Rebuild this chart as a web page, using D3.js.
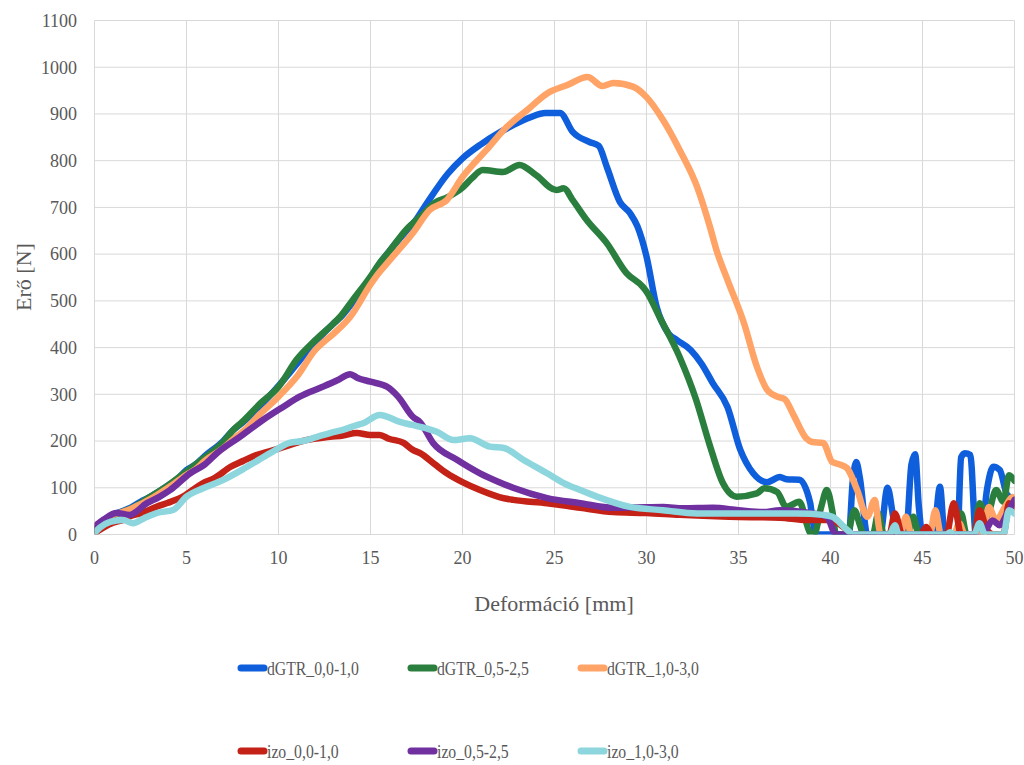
<!DOCTYPE html>
<html>
<head>
<meta charset="utf-8">
<script src="https://d3js.org/d3.v7.min.js"></script>
<style>
  body { margin: 0; background: #fff; }
  svg { font-family: "Liberation Serif", "Times New Roman", serif; }
</style>
</head>
<body>
<svg width="1024" height="765"></svg>
<script>
// series names, legend order
var names = ["dGTR_0,0-1,0", "dGTR_0,5-2,5", "dGTR_1,0-3,0", "izo_0,0-1,0", "izo_0,5-2,5", "izo_1,0-3,0"];
var colors = ["#0f5fdc", "#2a7f3e", "#ffa366", "#c42117", "#7030a0", "#8dd6dd"];

var xTicks = [0, 5, 10, 15, 20, 25, 30, 35, 40, 45, 50];
var yTicks = [0, 100, 200, 300, 400, 500, 600, 700, 800, 900, 1000, 1100];

// [deformation mm, force N]
var dGTR_00 = [[0,10],[0.5,30],[1,42],[1.5,50],[2,58],[2.5,70],[3,80],[3.5,92],[4,105],[4.5,118],[5,138],[5.5,150],[6,168],[7,200],[7.5,222],[8,238],[9,275],[10,318],[11,365],[12,412],[13,452],[13.4,466],[14,495],[15,548],[15.5,580],[16,605],[17,652],[17.5,675],[18,705],[19.2,772],[20,805],[21,835],[22,860],[22.75,876],[23.7,893],[24.5,902],[25.3,902],[26,861],[26.9,840],[27.4,832],[27.85,786],[28.55,712],[29.1,688],[29.5,660],[30,595],[30.55,487],[31.2,430],[31.65,416],[32.4,395],[33,365],[33.6,324],[34.4,273],[35.1,181],[35.8,131],[36.55,112],[37.25,123],[37.6,118],[38.3,117],[38.9,67],[39.0,37],[39.3,0],[41.0,0],[41.2,110],[41.4,155],[41.6,120],[42.0,0],[42.7,0],[43.1,100],[43.4,40],[43.6,0],[44.1,0],[44.4,150],[44.6,172],[44.8,60],[45.0,0],[45.6,0],[45.95,102],[46.2,0],[46.9,0],[47.1,165],[47.3,174],[47.6,170],[47.9,0],[48.2,0],[48.5,95],[48.85,145],[49.2,138],[49.6,85],[50,75]];
var dGTR_05 = [[0,10],[0.5,28],[1,40],[1.5,48],[2,56],[3,80],[4,105],[5,135],[6,165],[7,198],[7.55,224],[8,240],[9,280],[10,316],[11,375],[12,416],[13,452],[13.35,466],[14,500],[15,552],[15.5,581],[16,605],[17,655],[17.3,666],[17.7,680],[18.5,710],[19.2,722],[20.05,744],[20.5,762],[21.1,780],[22.2,776],[23.1,791],[24,769],[25.1,737],[25.5,741],[26,715],[26.75,673],[27.85,623],[28.9,560],[29.8,530],[30,520],[30.7,466],[31.8,380],[32.7,288],[33.4,196],[34.15,110],[34.9,81],[36.0,88],[36.4,99],[37.1,91],[37.6,59],[38.3,70],[38.9,3],[39.1,0],[39.5,60],[39.8,95],[40.1,50],[40.3,0],[40.9,0],[41.3,52],[41.6,20],[41.8,0],[42.3,0],[42.6,45],[42.9,0],[44.2,0],[44.5,38],[44.8,0],[46.8,0],[47.1,45],[47.4,0],[47.8,0],[48.1,67],[48.5,40],[49.0,95],[49.4,70],[49.7,127],[50,115]];
var dGTR_10 = [[0,15],[0.5,30],[1,42],[1.5,48],[2,55],[2.5,65],[3,75],[4,100],[5,128],[5.5,140],[6,158],[7,185],[7.7,209],[8,218],[9,258],[10,295],[11,338],[12,395],[12.4,410],[13,430],[13.9,466],[15,535],[15.3,552],[16,585],[17.3,645],[18.2,694],[19.15,716],[20,765],[21.3,823],[22.4,872],[23.5,908],[24.6,944],[25.7,962],[26.8,979],[27.6,960],[28.2,966],[29.3,958],[30,936],[30.9,887],[31.8,823],[32.75,744],[33.45,658],[33.8,609],[34.4,545],[35.3,452],[36.0,359],[36.55,310],[37.1,295],[37.5,290],[38.0,255],[38.7,205],[39.0,198],[39.6,196],[40.1,155],[40.5,150],[40.9,142],[41.45,95],[42.0,38],[42.4,74],[42.7,3],[42.9,0],[43.8,0],[44.1,38],[44.4,0],[45.4,0],[45.7,52],[46.0,0],[46.7,0],[47.0,24],[47.3,0],[48.3,0],[48.6,59],[49.0,30],[49.5,60],[49.9,80],[50,78]];
var izo_00 = [[0,3],[0.5,15],[1,25],[1.55,31],[2,40],[2.5,45],[3.4,60],[4,68],[4.8,81],[5.9,110],[6.5,120],[7.4,145],[8.1,158],[8.8,170],[9.5,178],[10.25,187],[11.5,202],[12.8,209],[13.5,212],[14.25,217],[15,213],[15.5,213],[16,205],[16.8,196],[17.3,181],[17.7,174],[18.5,150],[19.15,131],[20,112],[20.95,95],[22,80],[22.75,74],[24.6,67],[26.4,57],[28.2,48],[30,46],[31.8,42],[34.5,38],[37.25,36],[38.7,31],[40,31],[40.7,16],[41.25,0],[43.2,0],[43.5,45],[43.9,0],[44.9,0],[45.2,16],[45.5,0],[46.3,0],[46.7,67],[47.1,0],[47.8,0],[48.1,52],[48.5,10],[48.85,0],[49.4,0],[49.7,67],[50,60]];
var izo_05 = [[0,17],[0.5,32],[1.2,46],[1.9,42],[2.85,67],[3.5,80],[4.1,95],[5.2,131],[6,150],[6.65,174],[7.9,209],[9.15,245],[10.25,273],[11.15,295],[12.4,316],[13.2,330],[13.9,343],[14.3,335],[15.0,327],[15.9,316],[16.5,295],[17.3,252],[17.7,240],[18.4,196],[19.7,160],[20.95,131],[22,112],[22.75,100],[24.6,78],[26.4,67],[28.2,57],[29.5,58],[30.9,59],[32,56],[33.6,57],[35,52],[36.35,48],[37.25,52],[39.0,45],[39.8,38],[40.3,0],[47.8,0],[48.1,24],[48.4,10],[48.8,30],[49.2,20],[49.6,45],[50,74]];
var izo_10 = [[0,3],[0.3,15],[0.85,27],[1.55,31],[2.1,24],[2.7,35],[3.4,46],[4.3,53],[5.0,81],[5.9,99],[7.0,117],[8.3,145],[9.55,174],[10.6,196],[11.3,200],[12.1,209],[12.8,217],[13.5,224],[14.25,234],[14.6,238],[15.5,256],[16.6,241],[17.2,235],[18.05,227],[18.6,220],[19.5,202],[20.4,206],[21.5,188],[22.25,185],[23.3,160],[24.6,131],[25.5,110],[26.4,95],[27.3,81],[29.1,59],[30.9,52],[32.75,45],[35.45,45],[38.2,45],[39.6,42],[40.1,38],[40.9,10],[41.25,0],[43.2,0],[43.5,20],[43.7,0],[46.3,0],[46.5,5],[46.7,0],[47.8,0],[48.1,24],[48.4,0],[49.4,0],[49.7,52],[50,45]];

var series = [dGTR_00, dGTR_05, dGTR_10, izo_00, izo_05, izo_10];

var svg = d3.select("svg");
var plotLeft = 94.5, plotRight = 1014.5, plotTop = 20.5, plotBottom = 534.5;

var x = d3.scaleLinear().domain([0, 50]).range([plotLeft, plotRight]);
var y = d3.scaleLinear().domain([0, 1100]).range([plotBottom, plotTop]);

// gridlines
svg.append("g").selectAll("line").data(yTicks).enter().append("line")
    .attr("x1", plotLeft).attr("x2", plotRight)
    .attr("y1", function(d) { return y(d); }).attr("y2", function(d) { return y(d); })
    .attr("stroke", "#d9d9d9").attr("stroke-width", 1);
svg.append("g").selectAll("line").data(xTicks).enter().append("line")
    .attr("x1", function(d) { return x(d); }).attr("x2", function(d) { return x(d); })
    .attr("y1", plotTop).attr("y2", plotBottom)
    .attr("stroke", "#d9d9d9").attr("stroke-width", 1);

// tick labels
svg.append("g").selectAll("text").data(yTicks).enter().append("text")
    .attr("x", 77).attr("y", function(d) { return y(d); })
    .attr("dy", "0.35em").attr("text-anchor", "end")
    .attr("font-size", 18).attr("fill", "#595959")
    .text(function(d) { return d; });
svg.append("g").selectAll("text").data(xTicks).enter().append("text")
    .attr("x", function(d) { return x(d); }).attr("y", 564)
    .attr("text-anchor", "middle")
    .attr("font-size", 18).attr("fill", "#595959")
    .text(function(d) { return d; });

// axis titles
svg.append("text")
    .attr("x", 554).attr("y", 611)
    .attr("text-anchor", "middle").attr("font-size", 22).attr("fill", "#595959")
    .text("Deformáció [mm]");
svg.append("text")
    .attr("transform", "translate(31,277) rotate(-90)")
    .attr("text-anchor", "middle").attr("font-size", 22).attr("fill", "#595959")
    .text("Erő [N]");

// lines
svg.append("clipPath").attr("id", "plot").append("rect")
    .attr("x", plotLeft).attr("y", plotTop)
    .attr("width", plotRight - plotLeft).attr("height", plotBottom - plotTop);

var line = d3.line()
    .x(function(d) { return x(d[0]); })
    .y(function(d) { return y(d[1]); })
    .curve(d3.curveMonotoneX);

svg.append("g").attr("clip-path", "url(#plot)")
    .selectAll("path").data(series).enter().append("path")
    .attr("d", line)
    .attr("fill", "none")
    .attr("stroke", function(d, i) { return colors[i]; })
    .attr("stroke-width", 6.5)
    .attr("stroke-linejoin", "round")
    .attr("stroke-linecap", "round");

// legend
var legendX = [238, 408, 578];
var legendY = [668, 751];
var item = svg.append("g").selectAll("g").data(names).enter().append("g")
    .attr("transform", function(d, i) {
        return "translate(" + legendX[i % 3] + "," + legendY[Math.floor(i / 3)] + ")";
    });
item.append("line")
    .attr("x1", 3).attr("x2", 26).attr("y1", 0).attr("y2", 0)
    .attr("stroke", function(d, i) { return colors[i]; })
    .attr("stroke-width", 7).attr("stroke-linecap", "round");
item.append("text")
    .attr("transform", "translate(29,0) scale(0.83,1)")
    .attr("dy", "0.35em").attr("font-size", 19).attr("fill", "#595959")
    .text(function(d) { return d; });
</script>
</body>
</html>
